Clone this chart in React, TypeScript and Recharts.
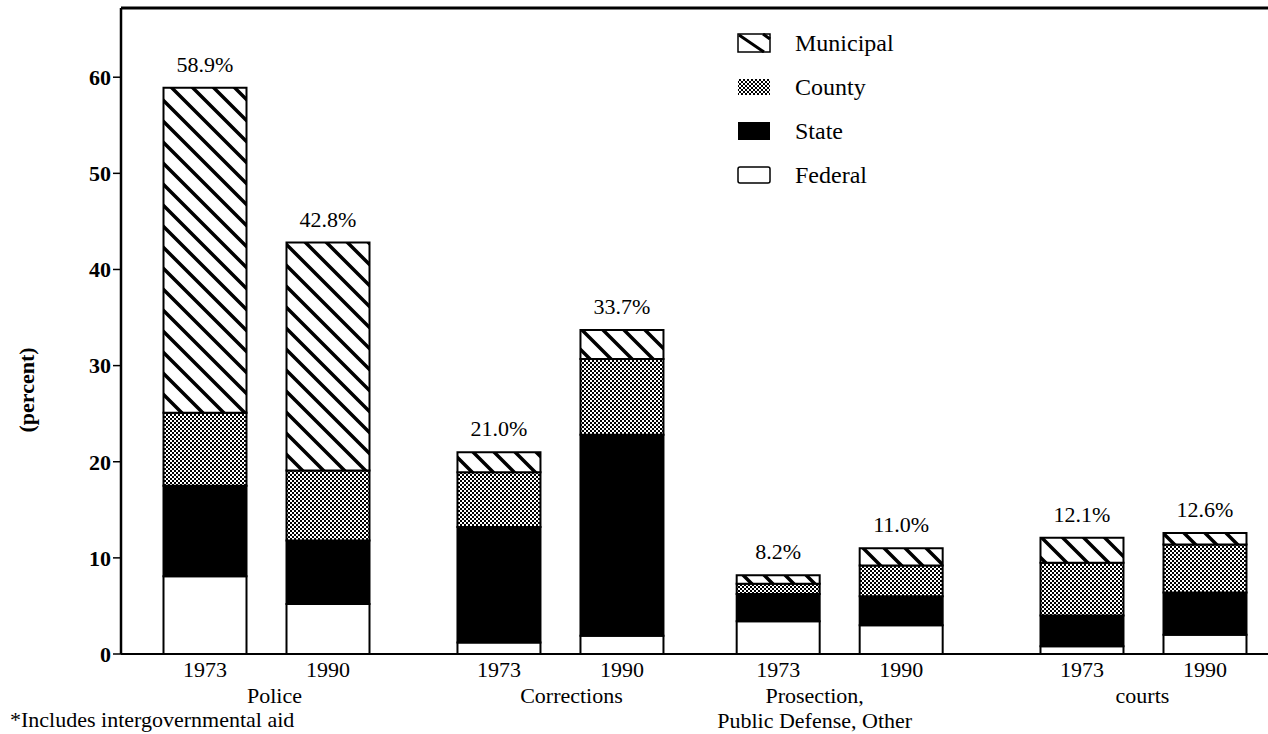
import { BarChart, Bar, XAxis, YAxis, LabelList, ReferenceLine } from "recharts"

const GROUP_LABELS = [["Police"], ["Corrections"], ["Prosection,", "Public Defense, Other"], ["courts"]]
const YEARS = ["1973", "1990"]
const LEGEND_NAMES = ["Municipal", "County", "State", "Federal"]

// share of spending, percent, bottom to top of each stack
const FEDERAL = [8.1, 5.2, 1.2, 1.9, 3.4, 3.0, 0.8, 2.0]
const STATE = [9.4, 6.6, 12.0, 20.9, 2.85, 3.0, 3.2, 4.4]
const COUNTY = [7.6, 7.3, 5.7, 7.9, 1.05, 3.2, 5.5, 5.0]
const MUNICIPAL = [33.8, 23.7, 2.1, 3.0, 0.9, 1.8, 2.6, 1.2]
const TOTALS = [58.9, 42.8, 21.0, 33.7, 8.2, 11.0, 12.1, 12.6]
const Y_TICKS = [0, 10, 20, 30, 40, 50, 60]

// layout only: first bar of each group, in bar-step units
const GROUP_START = [0, 2.39, 4.66, 7.13]
const LABEL_DX = [8, 11, -25, -1]
const STEP_PX = 123
const X_MIN = -84 / STEP_PX
const X_MAX = X_MIN + 1147 / STEP_PX
const Y_MAX = 67.2

const SERIF = '"Liberation Serif", "Times New Roman", serif'

const rows = FEDERAL.map((_, i) => {
  const g = Math.floor(i / 2)
  const y = i % 2
  return {
    pos: GROUP_START[g] + y,
    group: g,
    yearIdx: y,
    year: YEARS[y],
    federal: FEDERAL[i],
    state: STATE[i],
    county: COUNTY[i],
    municipal: MUNICIPAL[i],
    total: TOTALS[i],
  }
})

const XTick = ({ x, y, payload }: any) => {
  const row = rows.find((r) => Math.abs(r.pos - payload.value) < 0.001)
  if (!row) return null
  return (
    <g>
      <text x={x} y={y + 23} textAnchor="middle" fontFamily={SERIF} fontSize={22} fill="#000">
        {row.year}
      </text>
      {row.yearIdx === 0 &&
        GROUP_LABELS[row.group].map((line, k) => (
          <text
            key={k}
            x={x + STEP_PX / 2 + LABEL_DX[row.group]}
            y={y + 49 + k * 25}
            textAnchor="middle"
            fontFamily={SERIF}
            fontSize={22}
            fill="#000"
          >
            {line}
          </text>
        ))}
    </g>
  )
}

const TotalLabel = (props: any) => {
  const { x, y, width, value } = props
  return (
    <text x={x + width / 2} y={y - 16} textAnchor="middle" fontFamily={SERIF} fontSize={22} fill="#000">
      {Number(value).toFixed(1)}%
    </text>
  )
}

const Swatch = ({ name }: { name: string }) => {
  if (name === "Municipal") {
    return (
      <svg width={34} height={20}>
        <rect x={1} y={1} width={32} height={18} fill="#fff" stroke="#000" strokeWidth={1.5} />
        <path d="M2,2 L27,19 M26,1 L33,6" stroke="#000" strokeWidth={3} />
      </svg>
    )
  }
  if (name === "County") {
    return (
      <svg width={34} height={20}>
        <rect x={1} y={2} width={32} height={16} fill="url(#stipple)" />
      </svg>
    )
  }
  if (name === "State") {
    return (
      <svg width={34} height={20}>
        <rect x={1} y={1} width={32} height={18} fill="#000" />
      </svg>
    )
  }
  return (
    <svg width={34} height={20}>
      <rect x={1} y={2} width={32} height={16} rx={2} fill="#fff" stroke="#000" strokeWidth={1.5} />
    </svg>
  )
}

export default function App() {
  return (
    <div style={{ position: "absolute", left: 0, top: 0, width: 1268, height: 734, background: "#fff", overflow: "hidden" }}>
      <svg width={0} height={0} style={{ position: "absolute" }}>
        <defs>
          <pattern id="hatch" patternUnits="userSpaceOnUse" width={21} height={21}>
            <rect width={21} height={21} fill="#fff" />
            <path d="M-2,-2 L23,23 M-4,17 L4,25 M17,-4 L25,4" stroke="#000" strokeWidth={3.5} />
          </pattern>
          <pattern id="stipple" patternUnits="userSpaceOnUse" width={4} height={4}>
            <rect width={4} height={4} fill="#fff" />
            <rect x={0} y={0} width={2} height={2} fill="#000" />
            <rect x={2} y={2} width={2} height={2} fill="#000" />
          </pattern>
        </defs>
      </svg>

      <BarChart width={1268} height={734} data={rows} margin={{ top: 8, right: 0, left: 0, bottom: 0 }} barSize={83}>
        <XAxis
          type="number"
          dataKey="pos"
          domain={[X_MIN, X_MAX]}
          ticks={rows.map((r) => r.pos)}
          interval={0}
          height={80}
          tickSize={0}
          tickMargin={0}
          tickLine={false}
          axisLine={{ stroke: "#000", strokeWidth: 2 }}
          tick={(p: any) => <XTick {...p} />}
        />
        <YAxis
          type="number"
          domain={[0, Y_MAX]}
          ticks={Y_TICKS}
          width={121}
          tickSize={8}
          tickMargin={2}
          axisLine={{ stroke: "#000", strokeWidth: 2.5 }}
          tickLine={{ stroke: "#000", strokeWidth: 1.5 }}
          tick={{ fill: "#000", fontFamily: SERIF, fontSize: 22, fontWeight: "bold" }}
        />
        <ReferenceLine y={Y_MAX} stroke="#000" strokeWidth={3} />
        <Bar dataKey="federal" stackId="a" fill="#fff" stroke="#000" strokeWidth={2} isAnimationActive={false} />
        <Bar dataKey="state" stackId="a" fill="#000" stroke="#000" strokeWidth={2} isAnimationActive={false} />
        <Bar dataKey="county" stackId="a" fill="url(#stipple)" stroke="#000" strokeWidth={2} isAnimationActive={false} />
        <Bar dataKey="municipal" stackId="a" fill="url(#hatch)" stroke="#000" strokeWidth={2} isAnimationActive={false}>
          <LabelList dataKey="total" content={<TotalLabel />} />
        </Bar>
      </BarChart>

      {/* y axis title */}
      <div
        style={{
          position: "absolute",
          left: 27,
          top: 390,
          transform: "translate(-50%, -50%) rotate(-90deg)",
          fontFamily: SERIF,
          fontSize: 22,
          fontWeight: "bold",
          whiteSpace: "nowrap",
        }}
      >
        (percent)
      </div>

      {/* legend */}
      <div style={{ position: "absolute", left: 737, top: 21 }}>
        {LEGEND_NAMES.map((name) => (
          <div key={name} style={{ display: "flex", alignItems: "center", height: 44 }}>
            <Swatch name={name} />
            <span style={{ marginLeft: 24, fontFamily: SERIF, fontSize: 24, color: "#000" }}>{name}</span>
          </div>
        ))}
      </div>

      {/* footnote */}
      <div
        style={{
          position: "absolute",
          left: 10,
          top: 709,
          fontFamily: SERIF,
          fontSize: 22,
          lineHeight: "22px",
          whiteSpace: "nowrap",
        }}
      >
        *Includes intergovernmental aid
      </div>
    </div>
  )
}
